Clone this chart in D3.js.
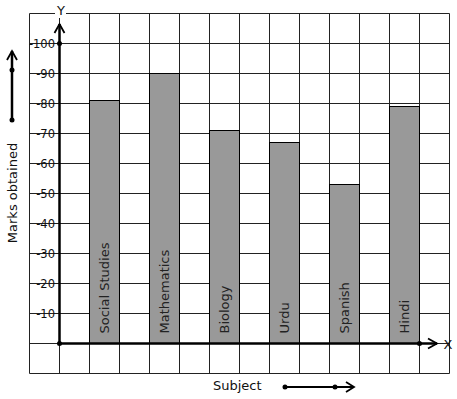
<html>
<head>
    <style>
        body { margin: 0; background: #fff; }
        text { font-family: "DejaVu Sans", sans-serif; fill: #111; }
        .grid line { stroke: #222; stroke-width: 1; }
        .bar { fill: #999; stroke: #000; stroke-width: 1; }
    </style>
    <script src="https://d3js.org/d3.v7.min.js"></script>
</head>
<body>
    <svg width="457" height="399"></svg>
    <script>
        // data
        var subjects = ["Social Studies", "Mathematics", "Biology", "Urdu", "Spanish", "Hindi"];
        var marks = [81, 90, 71, 67, 53, 79];
        var yTicks = [10, 20, 30, 40, 50, 60, 70, 80, 90, 100];

        var svg = d3.select("svg");

        // one grid unit = 30px; x unit 0 is the y axis, y unit 0 is the x axis
        var x = d3.scaleLinear().domain([-1, 13]).range([29.5, 449.5]);
        var y = d3.scaleLinear().domain([-10, 110]).range([373.5, 13.5]);

        var grid = svg.append("g").attr("class", "grid");
        grid.selectAll(".v")
            .data(d3.range(-1, 14))
            .enter().append("line")
            .attr("x1", function(d) { return x(d); })
            .attr("x2", function(d) { return x(d); })
            .attr("y1", y(110))
            .attr("y2", y(-10));
        grid.selectAll(".h")
            .data(d3.range(-10, 111, 10))
            .enter().append("line")
            .attr("y1", function(d) { return y(d); })
            .attr("y2", function(d) { return y(d); })
            .attr("x1", x(-1))
            .attr("x2", x(13));

        // bars cover the grid
        svg.selectAll(".bar")
            .data(marks)
            .enter().append("rect")
            .attr("class", "bar")
            .attr("x", function(d, i) { return x(1 + 2 * i); })
            .attr("width", x(2) - x(1))
            .attr("y", function(d) { return y(d); })
            .attr("height", function(d) { return y(0) - y(d); });

        svg.selectAll(".blabel")
            .data(subjects)
            .enter().append("text")
            .attr("transform", function(d, i) {
                return "translate(" + (x(1.5 + 2 * i) + 4.5) + "," + (y(0) - 10) + ") rotate(-90)";
            })
            .attr("font-size", 13)
            .style("fill", "#222")
            .text(function(d) { return d; });

        // y tick labels
        svg.selectAll(".tick")
            .data(yTicks)
            .enter().append("text")
            .attr("x", 55)
            .attr("y", function(d) { return y(d); })
            .attr("dy", "0.36em")
            .attr("text-anchor", "end")
            .attr("font-size", 11.5)
            .text(function(d) { return "-" + d; });

        // axes
        var ax = x(0), ay = y(0);
        svg.append("line")
           .attr("x1", ax).attr("y1", ay).attr("x2", ax).attr("y2", 24)
           .attr("stroke", "#000").attr("stroke-width", 2.5);
        svg.append("path")
           .attr("d", "M" + (ax - 5) + ",33L" + ax + ",24L" + (ax + 5) + ",33")
           .attr("fill", "none").attr("stroke", "#000").attr("stroke-width", 1.8);
        svg.append("line")
           .attr("x1", ax).attr("y1", ay).attr("x2", 437).attr("y2", ay)
           .attr("stroke", "#000").attr("stroke-width", 2.5);
        svg.append("path")
           .attr("d", "M428," + (ay - 5) + "L437," + ay + "L428," + (ay + 5))
           .attr("fill", "none").attr("stroke", "#000").attr("stroke-width", 1.8);

        [[ax, ay], [ax, y(100)], [x(12), ay]].forEach(function(p) {
            svg.append("circle").attr("cx", p[0]).attr("cy", p[1]).attr("r", 2.5).attr("fill", "#000");
        });

        // Y / X labels
        svg.append("rect").attr("x", 55).attr("y", 4).attr("width", 11).attr("height", 14).attr("fill", "#fff");
        svg.append("text").attr("x", 61).attr("y", 15).attr("text-anchor", "middle")
           .attr("font-size", 13).text("Y");
        svg.append("text").attr("x", 448).attr("y", ay + 5).attr("text-anchor", "middle")
           .attr("font-size", 13).text("X");

        // y title + arrow
        svg.append("text")
           .attr("transform", "translate(17,193) rotate(-90)")
           .attr("text-anchor", "middle")
           .attr("font-size", 13)
           .text("Marks obtained");
        svg.append("line").attr("x1", 12).attr("y1", 120).attr("x2", 12).attr("y2", 51)
           .attr("stroke", "#000").attr("stroke-width", 2.5);
        svg.append("path").attr("d", "M7,60L12,51L17,60")
           .attr("fill", "none").attr("stroke", "#000").attr("stroke-width", 1.8);
        svg.append("circle").attr("cx", 12).attr("cy", 70).attr("r", 2.5).attr("fill", "#000");
        svg.append("circle").attr("cx", 12).attr("cy", 120).attr("r", 2.5).attr("fill", "#000");

        // x title + arrow
        svg.append("text").attr("x", 213).attr("y", 390).attr("font-size", 13).text("Subject");
        svg.append("line").attr("x1", 285).attr("y1", 387).attr("x2", 354).attr("y2", 387)
           .attr("stroke", "#000").attr("stroke-width", 1.8);
        svg.append("path").attr("d", "M346,382L354,387L346,392")
           .attr("fill", "none").attr("stroke", "#000").attr("stroke-width", 1.8);
        svg.append("circle").attr("cx", 285).attr("cy", 387).attr("r", 2.5).attr("fill", "#000");
        svg.append("circle").attr("cx", 335).attr("cy", 387).attr("r", 2.5).attr("fill", "#000");
    </script>
</body>
</html>
